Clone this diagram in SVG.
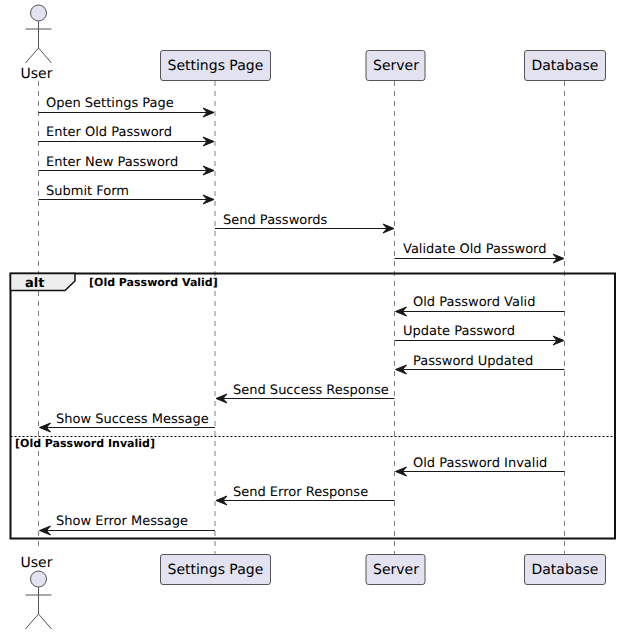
<svg xmlns="http://www.w3.org/2000/svg" width="621" height="634" viewBox="0 0 621 634">
<style>
text{font-family:"DejaVu Sans",sans-serif;fill:#000;text-rendering:geometricPrecision}
.m{font-size:13px}
.p{font-size:14px}
.life{stroke:#555;stroke-width:.75;stroke-dasharray:5,5;fill:none}
.box{fill:#E2E2F0;stroke:#555;stroke-width:1}
.actor{fill:none;stroke:#555;stroke-width:1}
.head{fill:#E2E2F0;stroke:#555;stroke-width:1}
.msg{stroke:#181818;stroke-width:1;fill:none}
.tip{fill:#181818;stroke:#181818;stroke-width:1}
.frame{fill:none;stroke:#111;stroke-width:2}
</style>
<defs>
<polygon id="ar" class="tip" points="-11,-4.500 0,0 -11,4.500 -7,0"/>
<polygon id="al" class="tip" points="11,-4.500 0,0 11,4.500 7,0"/>
</defs>
<g id="lifelines">
<line class="life" x1="38.5" y1="81" x2="38.5" y2="548"/>
<line class="life" x1="215" y1="81" x2="215" y2="554"/>
<line class="life" x1="394.5" y1="81" x2="394.5" y2="554"/>
<line class="life" x1="564.5" y1="81" x2="564.5" y2="554"/>
</g>
<g id="frame">
<rect class="frame" x="10.5" y="273.5" width="604.5" height="265"/>
<path d="M10.5 273.500H75V281L65 290.500H10.500Z" fill="#EEEEEE" stroke="#111" stroke-width="1.500"/>
<text x="25" y="287" font-size="13" font-weight="bold">alt</text>
<text x="89" y="285.500" font-size="11" font-weight="bold">[Old Password Valid]</text>
<line x1="10.5" y1="436.500" x2="615" y2="436.500" stroke="#000" stroke-width="1" stroke-dasharray="2,2"/>
<text x="15" y="446.500" font-size="11" font-weight="bold">[Old Password Invalid]</text>
</g>
<g id="connectors">
<line class="msg" x1="38.500" y1="112.500" x2="213" y2="112.500"/><use href="#ar" x="214" y="112.500"/><text class="m" x="46" y="107">Open Settings Page</text>
<line class="msg" x1="38.500" y1="141.500" x2="213" y2="141.500"/><use href="#ar" x="214" y="141.500"/><text class="m" x="46" y="136">Enter Old Password</text>
<line class="msg" x1="38.500" y1="170.500" x2="213" y2="170.500"/><use href="#ar" x="214" y="170.500"/><text class="m" x="46" y="165.500">Enter New Password</text>
<line class="msg" x1="38.500" y1="199.500" x2="213" y2="199.500"/><use href="#ar" x="214" y="199.500"/><text class="m" x="46" y="194.500">Submit Form</text>
<line class="msg" x1="215" y1="228.500" x2="393" y2="228.500"/><use href="#ar" x="394" y="228.500"/><text class="m" x="223" y="223.500">Send Passwords</text>
<line class="msg" x1="394.500" y1="258.500" x2="563" y2="258.500"/><use href="#ar" x="564" y="258.500"/><text class="m" x="403" y="253">Validate Old Password</text>
<line class="msg" x1="396" y1="311.500" x2="564.500" y2="311.500"/><use href="#al" x="395.500" y="311.500"/><text class="m" x="413" y="306">Old Password Valid</text>
<line class="msg" x1="394.500" y1="340.500" x2="563" y2="340.500"/><use href="#ar" x="564" y="340.500"/><text class="m" x="403" y="335">Update Password</text>
<line class="msg" x1="396" y1="369.500" x2="564.500" y2="369.500"/><use href="#al" x="395.500" y="369.500"/><text class="m" x="413" y="364.500">Password Updated</text>
<line class="msg" x1="217" y1="398.500" x2="394.500" y2="398.500"/><use href="#al" x="216" y="398.500"/><text class="m" x="233" y="393.500">Send Success Response</text>
<line class="msg" x1="40" y1="427.500" x2="215" y2="427.500"/><use href="#al" x="39.500" y="427.500"/><text class="m" x="56" y="422.500">Show Success Message</text>
<line class="msg" x1="396" y1="471.500" x2="564.500" y2="471.500"/><use href="#al" x="395.500" y="471.500"/><text class="m" x="413" y="466.500">Old Password Invalid</text>
<line class="msg" x1="217" y1="500.500" x2="394.500" y2="500.500"/><use href="#al" x="216" y="500.500"/><text class="m" x="233" y="496">Send Error Response</text>
<line class="msg" x1="40" y1="530.500" x2="215" y2="530.500"/><use href="#al" x="39.500" y="530.500"/><text class="m" x="56" y="525">Show Error Message</text>
</g>
<g id="user-top">
<circle class="head" cx="38.500" cy="13" r="8"/>
<path class="actor" d="M38.500 21V48M25.500 29H51.500M38.500 48L25.500 63M38.500 48L51.500 63"/>
<text class="p" x="20.500" y="78">User</text>
</g>
<g id="settings-top"><rect class="box" x="160.500" y="50.500" width="110" height="30" rx="2.500"/><text class="p" x="167.500" y="70">Settings Page</text></g>
<g id="server-top"><rect class="box" x="366" y="50.500" width="59" height="30" rx="2.500"/><text class="p" x="373" y="70">Server</text></g>
<g id="database-top"><rect class="box" x="524.500" y="50.500" width="81" height="30" rx="2.500"/><text class="p" x="531.500" y="70">Database</text></g>
<g id="user-bottom">
<text class="p" x="20.500" y="567">User</text>
<circle class="head" cx="38.500" cy="579" r="8"/>
<path class="actor" d="M38.500 587V614M25.500 595H51.500M38.500 614L25.500 629M38.500 614L51.500 629"/>
</g>
<g id="settings-bottom"><rect class="box" x="160.500" y="554.500" width="110" height="30" rx="2.500"/><text class="p" x="167.500" y="574">Settings Page</text></g>
<g id="server-bottom"><rect class="box" x="366" y="554.500" width="59" height="30" rx="2.500"/><text class="p" x="373" y="574">Server</text></g>
<g id="database-bottom"><rect class="box" x="524.500" y="554.500" width="81" height="30" rx="2.500"/><text class="p" x="531.500" y="574">Database</text></g>
</svg>
